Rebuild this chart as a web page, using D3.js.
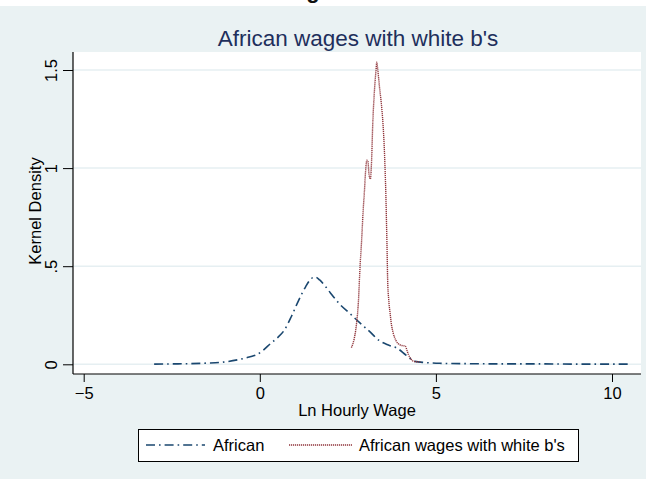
<!DOCTYPE html>
<html>
<head>
<meta charset="utf-8">
<script src="https://cdn.jsdelivr.net/npm/d3@7"></script>
<style>
  html, body { margin: 0; padding: 0; background: #ffffff; }
  svg { display: block; }
  text { font-family: "Liberation Sans", Arial, sans-serif; }
</style>
</head>
<body>
<svg id="chart" width="646" height="479"></svg>
<script>
// Kernel density estimates of log hourly wages
const seriesNames = ["African", "African wages with white b's"];

const africanX = [-3.0, -2.5, -2.0, -1.5, -1.1, -0.6, -0.3, -0.1, 0.1, 0.3, 0.5, 0.7, 0.9, 1.1, 1.3, 1.45, 1.57, 1.7, 1.85, 2.0, 2.25, 2.55, 2.85, 3.1, 3.4, 3.65, 3.9, 4.15, 4.4, 4.7, 5.1, 6.0, 7.0, 8.0, 9.0, 10.5];
const africanY = [0.001, 0.002, 0.003, 0.006, 0.010, 0.024, 0.037, 0.048, 0.072, 0.105, 0.135, 0.175, 0.245, 0.325, 0.395, 0.435, 0.445, 0.43, 0.40, 0.365, 0.31, 0.26, 0.21, 0.17, 0.12, 0.098, 0.082, 0.047, 0.015, 0.009, 0.005, 0.003, 0.002, 0.002, 0.001, 0.001];

const whiteBX = [2.60, 2.68, 2.72, 2.76, 2.79, 2.85, 2.90, 2.93, 2.97, 3.01, 3.04, 3.07, 3.10, 3.14, 3.17, 3.21, 3.25, 3.30, 3.32, 3.35, 3.40, 3.45, 3.50, 3.53, 3.56, 3.58, 3.60, 3.61, 3.63, 3.66, 3.70, 3.74, 3.78, 3.87, 3.97, 4.05, 4.13, 4.18, 4.22, 4.28, 4.36, 4.45, 4.56];
const whiteBY = [0.085, 0.13, 0.17, 0.23, 0.29, 0.51, 0.66, 0.77, 0.88, 1.00, 1.04, 1.035, 0.97, 0.945, 1.02, 1.24, 1.38, 1.50, 1.54, 1.50, 1.41, 1.33, 1.22, 1.12, 0.98, 0.86, 0.70, 0.62, 0.43, 0.33, 0.26, 0.20, 0.165, 0.12, 0.10, 0.095, 0.093, 0.07, 0.05, 0.03, 0.016, 0.013, 0.012];

const xTicks = [-5, 0, 5, 10];
const yTicks = [0, 0.5, 1, 1.5];
const yTickLabels = ["0", ".5", "1", "1.5"];

const svg = d3.select("#chart");
const W = 646, H = 479;

// graph region background
svg.append("rect").attr("x", 0).attr("y", 6).attr("width", W).attr("height", H - 6)
  .attr("fill", "#eaf2f3");

// descender of a heading above the graph region
svg.append("text").attr("x", 313).attr("y", -2).attr("text-anchor", "middle")
  .attr("font-size", 22).attr("font-weight", "bold").attr("fill", "#111").text("g");

const plot = { left: 73, right: 641, top: 52, bottom: 374 };

const x = d3.scaleLinear().domain([-5, 10]).range([83.7, 612]);
const y = d3.scaleLinear().domain([0, 1.5]).range([364.3, 70]);

// plot region
svg.append("rect").attr("x", plot.left).attr("y", plot.top)
  .attr("width", plot.right - plot.left).attr("height", plot.bottom - plot.top)
  .attr("fill", "#ffffff");

// horizontal grid
svg.append("g").selectAll("line").data(yTicks).join("line")
  .attr("x1", plot.left).attr("x2", plot.right)
  .attr("y1", d => y(d)).attr("y2", d => y(d))
  .attr("stroke", "#e6eff2").attr("stroke-width", 1.5);

// y axis
const yAxis = d3.axisLeft(y).tickValues(yTicks).tickSize(10).tickPadding(0)
  .tickFormat((d, i) => yTickLabels[i]);
const gy = svg.append("g").attr("transform", `translate(${plot.left},0)`).call(yAxis);
gy.select(".domain").remove();
gy.append("line").attr("x1", 0).attr("x2", 0).attr("y1", plot.top).attr("y2", plot.bottom)
  .attr("stroke", "#000").attr("stroke-width", 1.2);
gy.selectAll(".tick line").attr("stroke", "#000").attr("stroke-width", 1);
gy.selectAll(".tick text")
  .attr("font-size", 16.5).attr("fill", "#000")
  .attr("text-anchor", "middle").attr("dy", 0).attr("x", 0)
  .attr("transform", "translate(-16,0) rotate(-90)");

// x axis
const xAxis = d3.axisBottom(x).tickValues(xTicks).tickSize(8).tickPadding(5)
  .tickFormat(d3.format("d"));
const gx = svg.append("g").attr("transform", `translate(0,${plot.bottom})`).call(xAxis);
gx.select(".domain").remove();
gx.append("line").attr("x1", plot.left).attr("x2", plot.right).attr("y1", 0).attr("y2", 0)
  .attr("stroke", "#000").attr("stroke-width", 1.2);
gx.selectAll(".tick line").attr("stroke", "#000").attr("stroke-width", 1);
gx.selectAll(".tick text").attr("font-size", 16.5).attr("fill", "#000");

// axis titles
svg.append("text").attr("x", (plot.left + plot.right) / 2).attr("y", 416)
  .attr("text-anchor", "middle").attr("font-size", 16.5).attr("fill", "#000")
  .text("Ln Hourly Wage");
svg.append("text").attr("transform", `translate(41,${(plot.top + plot.bottom) / 2 - 2}) rotate(-90)`)
  .attr("text-anchor", "middle").attr("font-size", 16.5).attr("fill", "#000")
  .text("Kernel Density");

// title
svg.append("text").attr("x", (plot.left + plot.right) / 2 + 1).attr("y", 46)
  .attr("text-anchor", "middle").attr("font-size", 22.5).attr("fill", "#1e2f5c")
  .text("African wages with white b's");

// density curves
const line = d3.line().x(d => x(d[0])).y(d => y(d[1])).curve(d3.curveMonotoneX);
const african = africanX.map((v, i) => [v, africanY[i]]);
const whiteB = whiteBX.map((v, i) => [v, whiteBY[i]]);

const styles = [
  { color: "#1a476f", dash: "9,4,1.6,4", width: 1.6 },
  { color: "#90353b", dash: "1.2,0.8", width: 1.4 }
];

svg.append("path").datum(african).attr("d", line).attr("fill", "none")
  .attr("stroke", styles[0].color).attr("stroke-width", styles[0].width)
  .attr("stroke-dasharray", styles[0].dash);
svg.append("path").datum(whiteB).attr("d", line).attr("fill", "none")
  .attr("stroke", styles[1].color).attr("stroke-width", styles[1].width)
  .attr("stroke-dasharray", styles[1].dash);

// legend
const lg = svg.append("g");
lg.append("rect").attr("x", 138.5).attr("y", 429.5).attr("width", 440).attr("height", 32)
  .attr("fill", "#ffffff").attr("stroke", "#000").attr("stroke-width", 1);
const keys = [
  { x1: 146, x2: 205, tx: 213 },
  { x1: 289, x2: 352, tx: 359 }
];
keys.forEach((k, i) => {
  lg.append("line").attr("x1", k.x1).attr("x2", k.x2).attr("y1", 445).attr("y2", 445)
    .attr("stroke", styles[i].color).attr("stroke-width", styles[i].width)
    .attr("stroke-dasharray", styles[i].dash);
  lg.append("text").attr("x", k.tx).attr("y", 451).attr("font-size", 16.5)
    .attr("fill", "#000").text(seriesNames[i]);
});
</script>
</body>
</html>
